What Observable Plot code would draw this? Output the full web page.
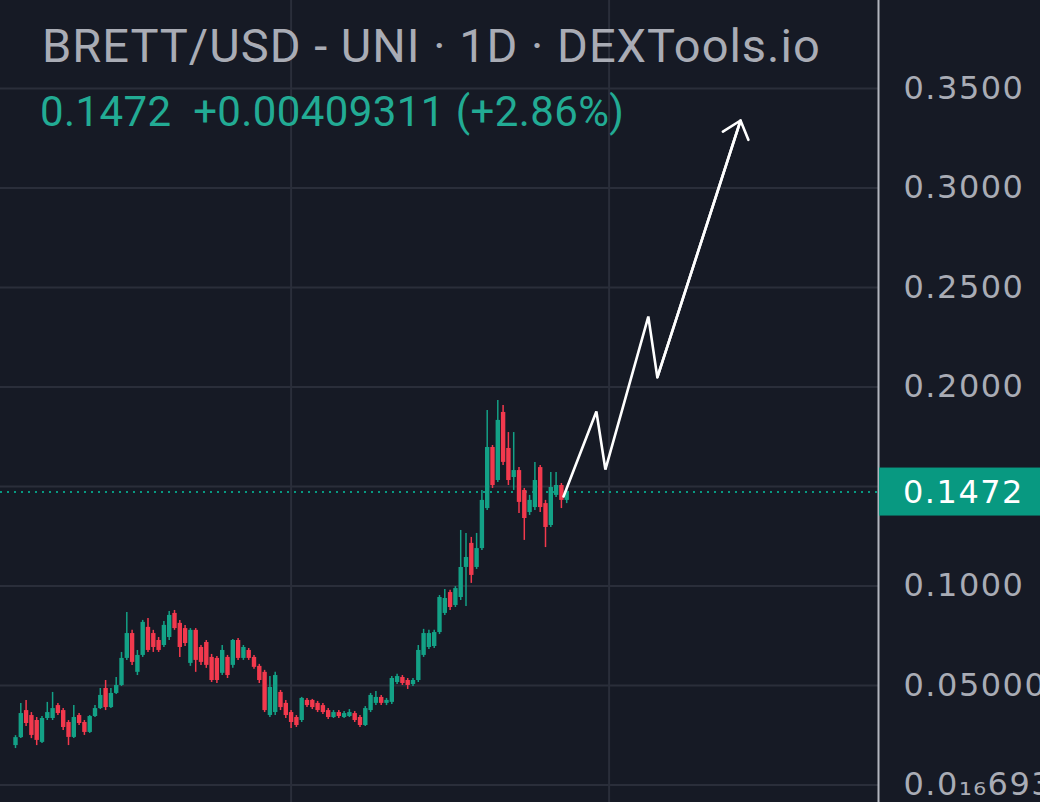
<!DOCTYPE html>
<html>
<head>
<meta charset="utf-8">
<script src="https://cdn.jsdelivr.net/npm/d3@7"></script>
<script src="https://cdn.jsdelivr.net/npm/@observablehq/plot@0.6"></script>
<style>
  html, body { margin: 0; padding: 0; background: #161a25; }
  #wrap { position: relative; width: 1040px; height: 802px; overflow: hidden; background: #161a25; }
  #title { position: absolute; left: 42px; top: 18px; font-family: Roboto, sans-serif; font-size: 47px; color: #a9acb5; white-space: pre; letter-spacing: 1px; }
  #quote { position: absolute; left: 40px; top: 87px; font-family: Roboto, sans-serif; font-size: 42px; color: #22ab94; white-space: pre; letter-spacing: 0.4px; }
</style>
</head>
<body>
<div id="wrap">
  <div id="chart"></div>
  <div id="title">BRETT/USD - UNI · 1D · DEXTools.io</div>
  <div id="quote">0.1472  +0.00409311 (+2.86%)</div>
</div>
<script>
// ---- data (daily candles, index = day) ----
const opens = [0.0198,0.0238,0.0374,0.0349,0.0324,0.0214,0.0334,0.0334,0.0399,0.0374,
  0.0314,0.0239,0.0349,0.0314,0.0264,0.0344,0.0384,0.0485,0.0389,0.0460,
  0.0500,0.0636,0.0761,0.0566,0.0651,0.0792,0.0761,0.0726,0.0701,0.0741,
  0.0862,0.0812,0.0786,0.0611,0.0777,0.0691,0.0716,0.0641,0.0636,0.0561,
  0.0641,0.0601,0.0726,0.0636,0.0676,0.0641,0.0596,0.0566,0.0349,0.0364,
  0.0465,0.0410,0.0364,0.0339,0.0324,0.0425,0.0425,0.0410,0.0399,0.0374,
  0.0339,0.0364,0.0339,0.0344,0.0359,0.0339,0.0299,0.0374,0.0410,0.0440,
  0.0410,0.0415,0.0515,0.0540,0.0525,0.0505,0.0525,0.0651,0.0691,0.0696,
  0.0766,0.0862,0.0967,0.0902,0.0942,0.1093,0.1214,0.1093,0.1188,0.1389,
  0.1696,0.1530,0.1872,0.1691,0.1545,0.1580,0.1480,0.1369,0.1394,0.1595,
  0.1414,0.1304,0.1455,0.1505,0.1430];
const highs = [0.0248,0.0410,0.0425,0.0364,0.0339,0.0344,0.0415,0.0465,0.0410,0.0384,
  0.0324,0.0399,0.0359,0.0324,0.0349,0.0399,0.0485,0.0525,0.0485,0.0540,
  0.0666,0.0867,0.0777,0.0676,0.0827,0.0837,0.0777,0.0741,0.0822,0.0872,
  0.0877,0.0827,0.0802,0.0786,0.0786,0.0701,0.0726,0.0656,0.0646,0.0701,
  0.0651,0.0731,0.0736,0.0701,0.0686,0.0651,0.0606,0.0576,0.0545,0.0566,
  0.0475,0.0425,0.0374,0.0349,0.0440,0.0435,0.0430,0.0420,0.0410,0.0384,
  0.0374,0.0374,0.0369,0.0379,0.0369,0.0349,0.0394,0.0460,0.0470,0.0450,
  0.0435,0.0545,0.0556,0.0550,0.0535,0.0535,0.0701,0.0782,0.0777,0.0777,
  0.0952,0.0982,0.0978,0.0997,0.1279,0.1264,0.1244,0.1264,0.1480,0.1882,
  0.1706,0.1932,0.1907,0.1771,0.1771,0.1595,0.1490,0.1455,0.1621,0.1606,
  0.1430,0.1570,0.1570,0.1515,0.1490];
const lows = [0.0183,0.0233,0.0294,0.0233,0.0198,0.0209,0.0324,0.0324,0.0349,0.0274,
  0.0198,0.0233,0.0299,0.0249,0.0259,0.0339,0.0379,0.0374,0.0384,0.0455,
  0.0495,0.0626,0.0601,0.0550,0.0641,0.0666,0.0666,0.0666,0.0691,0.0726,
  0.0777,0.0641,0.0696,0.0596,0.0566,0.0601,0.0586,0.0515,0.0510,0.0550,
  0.0535,0.0586,0.0626,0.0626,0.0626,0.0581,0.0510,0.0364,0.0339,0.0349,
  0.0374,0.0334,0.0284,0.0289,0.0314,0.0389,0.0379,0.0364,0.0354,0.0329,
  0.0334,0.0334,0.0334,0.0339,0.0314,0.0289,0.0294,0.0364,0.0399,0.0399,
  0.0399,0.0404,0.0505,0.0500,0.0480,0.0495,0.0515,0.0641,0.0681,0.0686,
  0.0756,0.0852,0.0877,0.0892,0.0927,0.0897,0.1013,0.1083,0.1178,0.1379,
  0.1490,0.1520,0.1606,0.1505,0.1480,0.1364,0.1229,0.1354,0.1379,0.1369,
  0.1193,0.1294,0.1445,0.1389,0.1414];
const closes = [0.0238,0.0359,0.0309,0.0249,0.0224,0.0334,0.0364,0.0384,0.0359,0.0289,
  0.0239,0.0339,0.0309,0.0264,0.0344,0.0384,0.0450,0.0389,0.0460,0.0500,
  0.0636,0.0761,0.0616,0.0651,0.0817,0.0676,0.0691,0.0676,0.0802,0.0852,
  0.0786,0.0691,0.0711,0.0777,0.0626,0.0616,0.0601,0.0525,0.0525,0.0676,
  0.0550,0.0726,0.0636,0.0691,0.0636,0.0591,0.0525,0.0374,0.0490,0.0550,
  0.0389,0.0349,0.0314,0.0299,0.0435,0.0399,0.0389,0.0374,0.0364,0.0339,
  0.0364,0.0344,0.0359,0.0364,0.0324,0.0299,0.0384,0.0450,0.0440,0.0410,
  0.0425,0.0535,0.0545,0.0510,0.0500,0.0525,0.0676,0.0761,0.0761,0.0766,
  0.0942,0.0937,0.0892,0.0987,0.1093,0.1143,0.1053,0.1188,0.1430,0.1696,
  0.1505,0.1832,0.1621,0.1530,0.1580,0.1420,0.1339,0.1430,0.1530,0.1394,
  0.1294,0.1495,0.1505,0.1430,0.1472];

// hand-drawn projection arrow (day index, price)
const arrowDays   = [103.4, 109.6, 111.3, 119.4, 121.1, 136.8];
const arrowPrices = [0.1450, 0.1877, 0.1585, 0.2354, 0.2048, 0.3339];

// axes
const yTickValues = [0.35, 0.30, 0.25, 0.20, 0.10, 0.05, 0];
const yTickLabels = ["0.3500", "0.3000", "0.2500", "0.2000", "0.1000", "0.05000", "0.0₁₆693"];
const yGridValues = [0, 0.05, 0.10, 0.15, 0.20, 0.25, 0.30, 0.35];
const xGridDays = [52, 112];
const lastPrice = 0.1472;
const lastPriceLabel = "0.1472";

// ---- build ----
const candles = opens.map((o, i) => ({i, open: o, high: highs[i], low: lows[i], close: closes[i]}));
const arrowPts = arrowDays.map((d, k) => ({x: d, y: arrowPrices[k]}));
const n = arrowDays.length;
const lastSeg = [{x1: arrowDays[n - 2], y1: arrowPrices[n - 2], x2: arrowDays[n - 1], y2: arrowPrices[n - 1]}];
const UP = "#13a186", DOWN = "#f2394d", GRID = "#2a2e3a", AXIS = "#a9acb5", TEAL = "#089981";
const xDomain = [-2.83, 162.83];
const col = d => d.close >= d.open ? UP : DOWN;
const FONT = "'DejaVu Sans', sans-serif";

const tickMap = new Map(yTickValues.map((v, k) => [v, yTickLabels[k]]));

const plot = Plot.plot({
  width: 1040,
  height: 802,
  marginLeft: 0,
  marginRight: 162,
  marginTop: 0,
  marginBottom: 0,
  style: {background: "#161a25", color: AXIS, fontFamily: FONT, overflow: "visible"},
  x: {domain: xDomain, axis: null},
  y: {domain: [-0.0088, 0.3942], axis: null},
  marks: [
    Plot.gridY(yGridValues, {stroke: GRID, strokeOpacity: 1, strokeWidth: 2}),
    Plot.gridX(xGridDays, {stroke: GRID, strokeOpacity: 1, strokeWidth: 2}),
    Plot.ruleY([lastPrice], {stroke: TEAL, strokeWidth: 2, strokeDasharray: "2,5"}),
    Plot.ruleX(candles, {x: "i", y1: "low", y2: "high", stroke: col, strokeWidth: 1.5}),
    Plot.ruleX(candles, {x: "i", y1: "open", y2: "close", stroke: col, strokeWidth: 4.4}),
    Plot.line(arrowPts, {x: "x", y: "y", stroke: "white", strokeWidth: 2.6, strokeLinejoin: "miter"}),
    Plot.arrow(lastSeg, {x1: "x1", y1: "y1", x2: "x2", y2: "y2", stroke: "white", strokeWidth: 2.6, headLength: 12, headAngle: 80}),
    Plot.ruleX([xDomain[1]], {stroke: "#b2b5be", strokeWidth: 2}),
    Plot.axisY(yTickValues, {anchor: "right", tickSize: 0, tickPadding: 25, fontSize: 32,
      fill: AXIS, tickFormat: v => tickMap.get(v), textAnchor: "start"})
  ]
});
document.getElementById("chart").appendChild(plot);

// last-price label in the price scale, positioned with the plot's scales
const yy = plot.scale("y").apply(lastPrice);
const xr = plot.scale("x").apply(xDomain[1]);
const svg = d3.select(plot);
svg.append("rect").attr("x", xr + 1).attr("y", yy - 24).attr("width", 1040 - xr).attr("height", 48).attr("fill", TEAL);
svg.append("text").attr("x", xr + 25).attr("y", yy).attr("dy", "0.35em")
  .attr("text-anchor", "start").attr("letter-spacing", "1.5px")
  .attr("fill", "white").attr("font-size", 32).attr("font-family", FONT)
  .text(lastPriceLabel);
svg.selectAll("g[aria-label='y-axis tick label'] text").attr("letter-spacing", "1.5px");
</script>
</body>
</html>
